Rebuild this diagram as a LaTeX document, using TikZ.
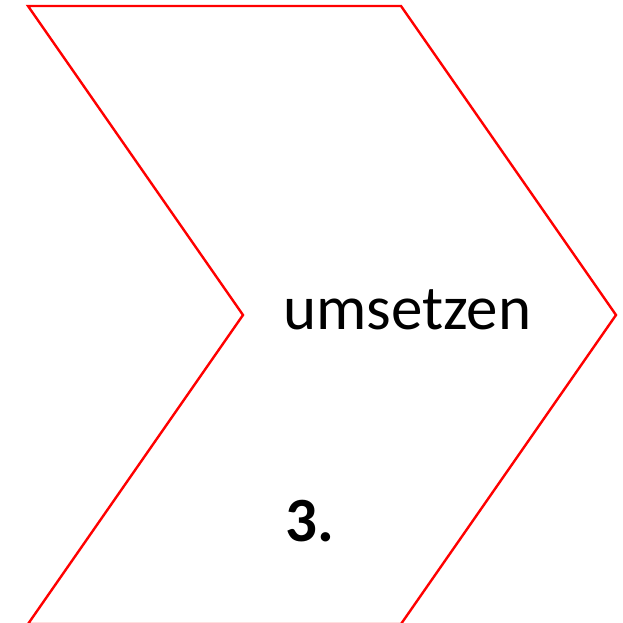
\documentclass[tikz,border=0pt]{standalone}
\usepackage{fontspec}
\setmainfont{Carlito}
\begin{document}
\begin{tikzpicture}[x=1pt,y=-1pt,
  chev/.style={draw=red, line width=2.4pt, line join=miter},
  lbl/.style={inner sep=0pt, anchor=base west, font=\fontsize{63}{66}\selectfont}]
\useasboundingbox (0,0) rectangle (623,622);
\clip (0,0) rectangle (623,622);
\draw[chev] (28,6) -- (401,6) -- (616,315) -- (401,624) -- (28,624) -- (243,315) -- cycle;
\node[lbl] (t1) at (283,329) {umsetzen};
\node[lbl, font=\fontsize{63}{66}\selectfont\bfseries] (t2) at (285,541) {3.};
\end{tikzpicture}
\end{document}
